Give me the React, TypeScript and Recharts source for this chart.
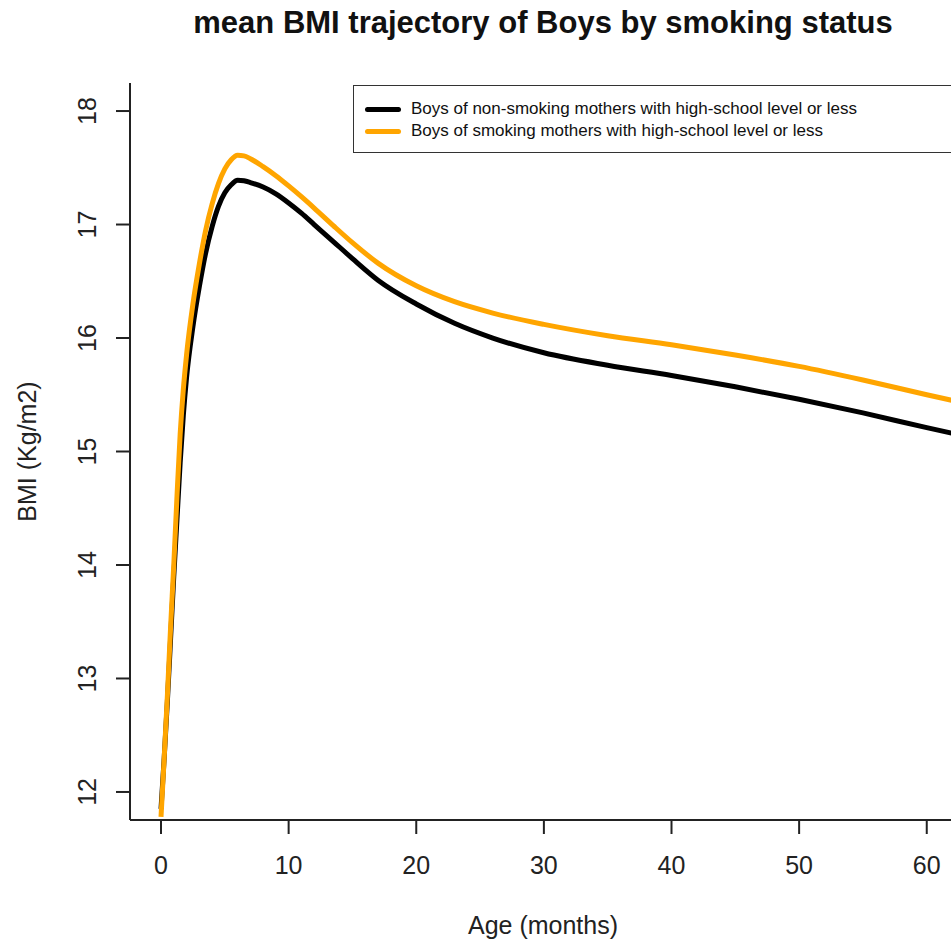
import { Label, Legend, Line, LineChart, XAxis, YAxis } from 'recharts'

const FONT = '"Liberation Sans", Arial, Helvetica, sans-serif'

// age in months
const months = [
  0, 0.25, 0.5, 0.75, 1, 1.25, 1.5, 1.75, 2, 2.5, 3, 3.5, 4, 4.5, 5, 5.5, 6, 6.5, 7, 8, 9, 10, 11, 12, 13.5, 15, 17, 20,
  23, 26, 30, 35, 40, 45, 50, 55, 60, 62,
]
// mean BMI, boys of non-smoking mothers
const nonSmoking = [
  11.85, 12.3, 12.8, 13.35, 13.9, 14.4, 14.9, 15.32, 15.65, 16.1, 16.45, 16.75, 16.98, 17.16, 17.28, 17.35, 17.39,
  17.385, 17.37, 17.33, 17.27, 17.19, 17.1, 17.0, 16.85, 16.7, 16.51, 16.3, 16.13, 16.0, 15.87, 15.76, 15.67, 15.57,
  15.46, 15.34, 15.21, 15.16,
]
// mean BMI, boys of smoking mothers
const smoking = [
  11.78, 12.3, 12.85, 13.45, 14.0, 14.6, 15.15, 15.55, 15.85, 16.3, 16.65, 16.95, 17.18, 17.36, 17.49, 17.57, 17.61,
  17.605, 17.58, 17.51, 17.43, 17.34, 17.245, 17.145, 16.99, 16.84, 16.66, 16.46, 16.32, 16.22, 16.12, 16.02, 15.94,
  15.85, 15.75, 15.63, 15.5, 15.45,
]

const xTicks = [0, 10, 20, 30, 40, 50, 60]
const yTicks = [12, 13, 14, 15, 16, 17, 18]
const seriesNames = [
  'Boys of non-smoking mothers with high-school level or less',
  'Boys of smoking mothers with high-school level or less',
]
const seriesColors = ['#000000', '#ffa500']

const data = months.map((m, i) => ({ month: m, nonSmoking: nonSmoking[i], smoking: smoking[i] }))

function YTick({ x, y, payload }: any) {
  return (
    <text x={x} y={y} transform={`rotate(-90 ${x} ${y})`} textAnchor="middle" fontSize={25} fill="#222" fontFamily={FONT}>
      {payload.value}
    </text>
  )
}

function XTick({ x, y, payload }: any) {
  return (
    <text x={x} y={y} dy="0.71em" textAnchor="middle" fontSize={25} fill="#222" fontFamily={FONT}>
      {payload.value}
    </text>
  )
}

function LegendBox() {
  return (
    <div
      style={{
        width: 620,
        height: 68,
        boxSizing: 'border-box',
        border: '1.5px solid #333',
        background: '#fff',
        padding: '12px 0 0 11px',
        fontFamily: FONT,
        fontSize: 17,
        color: '#111',
      }}
    >
      {seriesNames.map((name, i) => (
        <div key={name} style={{ display: 'flex', alignItems: 'center', height: 22 }}>
          <span style={{ width: 36, height: 5, borderRadius: 3, background: seriesColors[i], marginRight: 10 }} />
          <span>{name}</span>
        </div>
      ))}
    </div>
  )
}

export default function App() {
  return (
    <div style={{ position: 'absolute', left: 0, top: 0, width: 951, height: 941, overflow: 'hidden', background: '#fff' }}>
      <div
        style={{
          position: 'absolute',
          top: 8,
          left: 0,
          width: 1086,
          textAlign: 'center',
          fontFamily: FONT,
          fontWeight: 'bold',
          fontSize: 31,
          lineHeight: '30px',
          color: '#111',
        }}
      >
        mean BMI trajectory of Boys by smoking status
      </div>
      <LineChart width={951} height={941} data={data} margin={{ top: 83, right: 0, bottom: 0, left: 0 }}>
        <XAxis
          dataKey="month"
          type="number"
          domain={[-2.43, 61.9]}
          ticks={xTicks}
          allowDataOverflow
          height={121}
          tickSize={14}
          tickMargin={22}
          tick={<XTick />}
          stroke="#222"
          strokeWidth={2}
        >
          <Label
            content={({ viewBox }: any) => (
              <text
                x={543}
                y={viewBox.y + 114}
                textAnchor="middle"
                fontSize={25}
                fill="#222"
                fontFamily={FONT}
              >
                Age (months)
              </text>
            )}
          />
        </XAxis>
        <YAxis
          type="number"
          domain={[11.753, 18.247]}
          ticks={yTicks}
          allowDataOverflow
          width={130}
          tickSize={14}
          tickMargin={20}
          tick={<YTick />}
          stroke="#222"
          strokeWidth={2}
        >
          <Label
            content={({ viewBox }: any) => {
              const x = viewBox.x + 36
              const y = viewBox.y + viewBox.height / 2
              return (
                <text
                  x={x}
                  y={y}
                  transform={`rotate(-90 ${x} ${y})`}
                  textAnchor="middle"
                  fontSize={25}
                  fill="#222"
                  fontFamily={FONT}
                >
                  BMI (Kg/m2)
                </text>
              )
            }}
          />
        </YAxis>
        <Legend
          layout="vertical"
          align="center"
          verticalAlign="middle"
          content={() => <LegendBox />}
          wrapperStyle={{ position: 'absolute', left: 353, top: 85, width: 620, height: 68 }}
        />
        <Line
          type="monotone"
          dataKey="nonSmoking"
          name={seriesNames[0]}
          stroke={seriesColors[0]}
          strokeWidth={5}
          dot={false}
          isAnimationActive={false}
        />
        <Line
          type="monotone"
          dataKey="smoking"
          name={seriesNames[1]}
          stroke={seriesColors[1]}
          strokeWidth={5}
          dot={false}
          isAnimationActive={false}
        />
      </LineChart>
    </div>
  )
}
